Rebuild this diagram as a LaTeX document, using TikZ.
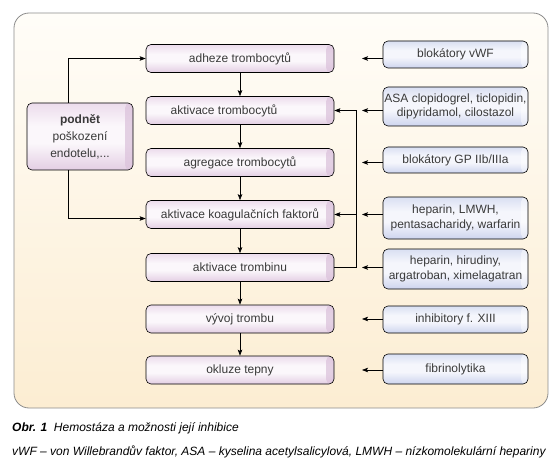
\documentclass[tikz,border=0pt]{standalone}
\usepackage{fontspec}
\setmainfont{Liberation Sans}
\usetikzlibrary{arrows.meta,calc}
\definecolor{frameT}{HTML}{FFFDF8}
\definecolor{frameB}{HTML}{FCEDD2}
\definecolor{pinkT}{HTML}{ECDCEC}
\definecolor{pinkM}{HTML}{FBF7FB}
\definecolor{pinkB}{HTML}{E3CEE3}
\definecolor{pinkS}{HTML}{DCC3DC}
\definecolor{blueT}{HTML}{D9DFF2}
\definecolor{blueM}{HTML}{F5F6FC}
\definecolor{blueB}{HTML}{CDD4EE}
\definecolor{txt}{HTML}{3A3A3A}
\pgfdeclareverticalshading{framesh}{100bp}{color(0bp)=(frameB); color(25bp)=(frameB); color(75bp)=(frameT); color(100bp)=(frameT)}
\pgfdeclareverticalshading{pinksh}{100bp}{color(0bp)=(pinkB); color(25bp)=(pinkB); color(45bp)=(pinkM); color(58bp)=(pinkM); color(75bp)=(pinkT); color(100bp)=(pinkT)}
\pgfdeclareverticalshading{bluesh}{100bp}{color(0bp)=(blueB); color(25bp)=(blueB); color(45bp)=(blueM); color(58bp)=(blueM); color(75bp)=(blueT); color(100bp)=(blueT)}
\tikzset{
  midbox/.style={draw=black, line width=0.6pt, rounded corners=5pt, shade, shading=pinksh,
    minimum width=188pt, minimum height=28pt, inner sep=0pt, text=txt,
    font=\fontsize{12}{14}\selectfont,
    path picture={\fill[pinkS, opacity=0.75] ([xshift=-8pt]path picture bounding box.north east) rectangle (path picture bounding box.south east);}},
  drugbox/.style={draw=black, line width=0.6pt, rounded corners=5pt, shade, shading=bluesh,
    minimum width=145pt, inner sep=0pt, text=txt, align=center,
    font=\fontsize{12}{14.5}\selectfont,
    path picture={\fill[white, opacity=0.45] ([xshift=-7pt]path picture bounding box.north east) rectangle (path picture bounding box.south east);}},
  arr/.style={line width=0.7pt, -{Stealth[length=6pt,width=4.5pt,inset=1.2pt]}},
  capfont/.style={anchor=west, inner sep=0pt, font=\fontsize{12}{14}\selectfont\itshape}
}
\begin{document}
\begin{tikzpicture}[x=1pt,y=-1pt]
\useasboundingbox (0,0) rectangle (557,476);
\path[shade, shading=framesh, draw=black!45, line width=0.8pt, rounded corners=15pt] (14,13) rectangle (548,408);

% middle column
\node[midbox] (adh) at (240,58.5) {adheze trombocytů};
\node[midbox] (akt) at (240,110.5) {aktivace trombocytů\hspace*{32pt}};
\node[midbox] (agr) at (240,162.5) {agregace trombocytů};
\node[midbox] (koag) at (240,214.5) {aktivace koagulačních faktorů};
\node[midbox] (trn) at (240,267.5) {aktivace trombinu};
\node[midbox] (vyv) at (240,319) {vývoj trombu};
\node[midbox] (okl) at (240,370) {okluze tepny};

% left stimulus
\node[midbox, minimum width=106pt, minimum height=67pt, align=center,
  font=\fontsize{12}{17}\selectfont] (pod) at (80,136.5)
  {\textbf{podnět}\\poškození\\endotelu,...};

% right column
\node[drugbox, minimum height=27pt] (r1) at (455.5,54.5) {blokátory vWF};
\node[drugbox, minimum height=39pt] (r2) at (455.5,106.5) {ASA clopidogrel, ticlopidin,\\dipyridamol, cilostazol};
\node[drugbox, minimum height=26pt] (r3) at (455.5,160) {blokátory GP IIb/IIIa};
\node[drugbox, minimum height=42pt] (r4) at (455.5,218) {heparin, LMWH,\\pentasacharidy, warfarin};
\node[drugbox, minimum height=40pt] (r5) at (455.5,269) {heparin, hirudiny,\\argatroban, ximelagatran};
\node[drugbox, minimum height=27pt] (r6) at (455.5,319.5) {inhibitory f. XIII};
\node[drugbox, minimum height=30pt] (r7) at (455.5,369) {fibrinolytika};

% vertical chain
\draw[arr] (adh) -- (akt);
\draw[arr] (akt) -- (agr);
\draw[arr] (agr) -- (koag);
\draw[arr] (koag) -- (trn);
\draw[arr] (trn) -- (vyv);
\draw[arr] (vyv) -- (okl);

% stimulus arrows
\draw[arr] ([xshift=-12pt]pod.north) |- (adh.west);
\draw[arr] ([xshift=-12pt]pod.south) |- ([yshift=-4pt]koag.west);

% feedback from thrombin
\coordinate (vx) at (356,0);
\draw[arr] (trn.east) -- (trn.east -| vx) |- (akt.east);
\draw[arr] (koag.east -| vx) -- (koag.east);

% inhibitor arrows
\coordinate (xa) at (362,0);
\draw[arr] (r1.west |- adh) -- (xa |- adh);
\draw[arr] (r2.west |- akt) -- (xa |- akt);
\draw[arr] (r3.west |- agr) -- (xa |- agr);
\draw[arr] (r4.west |- koag) -- (xa |- koag);
\draw[arr] (r5.west |- trn) -- (xa |- trn);
\draw[arr] (r6.west |- vyv) -- (xa |- vyv);
\draw[arr] (r7.west |- okl) -- (xa |- okl);

% caption
\node[capfont] (cap1) at (12,428) {\textbf{Obr. 1}\ \ Hemostáza a možnosti její inhibice};
\node[capfont] (cap2) at (12,452) {vWF – von Willebrandův faktor, ASA – kyselina acetylsalicylová, LMWH – nízkomolekulární hepariny};
\end{tikzpicture}
\end{document}
